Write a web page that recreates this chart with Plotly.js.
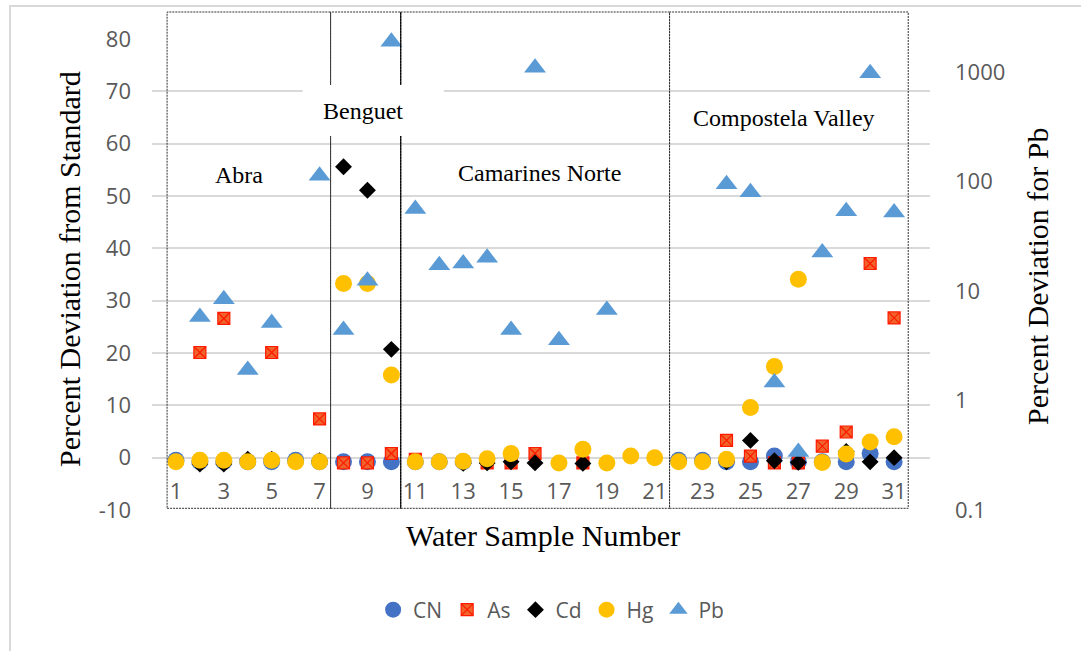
<!DOCTYPE html>
<html>
<head>
<meta charset="utf-8">
<script src="https://cdn.plot.ly/plotly-3.0.1.min.js"></script>
<style>
  html, body { margin: 0; padding: 0; background: #fff; }
  #chart { width: 1081px; height: 651px; }
</style>
</head>
<body>
<div id="chart"></div>
<script>
// ---- data ----
const samples = [1,2,3,4,5,6,7,8,9,10,11,12,13,14,15,16,17,18,19,20,21,22,23,24,25,26,27,28,29,30,31];
const xTickVals = [1,3,5,7,9,11,13,15,17,19,21,23,25,27,29,31];
const cnVals = [-0.5,-0.8,-0.8,-0.8,-0.8,-0.5,-0.8,-0.8,-0.8,-0.8,-0.8,-0.8,-0.8,null,null,null,null,null,null,null,null,-0.5,-0.5,-0.8,-0.8,0.3,-0.8,-0.8,-0.8,0.8,-0.8];
const asVals = [null,20.1,26.6,null,20.1,null,7.4,-1.0,-1.0,0.8,-0.3,null,null,-1.0,-1.0,0.8,null,-1.0,null,null,null,null,null,3.3,0.3,-1.0,-1.0,2.2,4.9,37.1,26.7];
const cdVals = [null,-1.2,-1.2,-0.3,-0.3,null,-0.6,55.6,51.1,20.7,null,null,-1.1,-1.0,-0.8,-1.0,null,-1.1,null,null,null,null,null,-0.8,3.3,-0.6,-0.9,null,1.2,-0.8,0.0];
const hgVals = [-0.8,-0.5,-0.5,-0.8,-0.5,-0.8,-0.8,33.3,33.3,15.8,-0.8,-0.8,-0.7,-0.2,0.8,null,-1.0,1.6,-1.0,0.3,0.0,-0.8,-0.8,-0.3,9.6,17.4,34.1,-0.9,0.7,3.0,4.0];
const pbVals = [null,5.8,8.4,1.9,5.1,null,113,4.4,12.4,1890,56,17.2,17.8,20.1,4.4,1094,3.55,null,6.7,null,null,null,null,94.6,80,1.46,0.338,22.5,53.6,973,52.1];
const leftTicks = [-10,0,10,20,30,40,50,60,70,80];
const leftTickText = ['-10','0','10','20','30','40','50','60','70','80'];
const rightTicks = [0.1,1,10,100,1000];
const rightTickText = ['0.1','1','10','100','1000'];
const regions = [
  {name: 'Abra', start: 0.63, end: 7.46},
  {name: 'Benguet', start: 7.46, end: 10.39},
  {name: 'Camarines Norte', start: 10.39, end: 21.62},
  {name: 'Compostela Valley', start: 21.62, end: 31.59}
];
const regionLabelPos = [
  {x: 3.62, y: 0.7113},
  {x: 8.81, y: 0.8478},
  {x: 16.19, y: 0.7149},
  {x: 26.38, y: 0.8316}
];

const sansFont = 'Open Sans, Liberation Sans, sans-serif';
const serifFont = 'Liberation Serif, Times New Roman, serif';
const grayText = '#595959';

const traces = [
  {name: 'CN', x: samples, y: cnVals, type: 'scatter', mode: 'markers', cliponaxis: false,
   marker: {symbol: 'circle', size: 17, color: '#4472C4'}},
  {name: 'As', x: samples, y: asVals, type: 'scatter', mode: 'markers', cliponaxis: false,
   marker: {symbol: 'square-x', size: 12, color: '#F0642C', line: {color: '#FF1A00', width: 1.2}}},
  {name: 'Cd', x: samples, y: cdVals, type: 'scatter', mode: 'markers', cliponaxis: false,
   marker: {symbol: 'diamond', size: 13, color: '#000000'}},
  {name: 'Hg', x: samples, y: hgVals, type: 'scatter', mode: 'markers', cliponaxis: false,
   marker: {symbol: 'circle', size: 17, color: '#FFC000'}},
  {name: 'Pb', x: samples, y: pbVals, type: 'scatter', mode: 'markers', yaxis: 'y2', cliponaxis: false,
   marker: {symbol: 'triangle-up', size: 19, color: '#5B9BD5'}}
];

const shapes = [];
// outer chart frame
shapes.push({type: 'rect', xref: 'paper', yref: 'paper', x0: -0.1825, x1: 1.35, y0: -0.35, y1: 1.0701,
  line: {color: '#D9D9D9', width: 2}, fillcolor: 'rgba(0,0,0,0)', layer: 'below'});
// region boxes
regions.forEach(r => {
  shapes.push({type: 'rect', xref: 'x', yref: 'paper', x0: r.start, x1: r.end, y0: 0.0036, y1: 1.0573,
    line: {color: '#303030', width: 1, dash: '2px,1px'}, fillcolor: 'rgba(0,0,0,0)', layer: 'above'});
});
// solid divider between Benguet and Camarines Norte
shapes.push({type: 'line', xref: 'x', yref: 'paper', x0: regions[2].start, x1: regions[2].start, y0: 0.0036, y1: 1.0573,
  line: {color: '#000000', width: 1}, layer: 'above'});
// white label box behind "Benguet"
shapes.push({type: 'rect', xref: 'x', yref: 'paper', x0: 6.29, x1: 12.19, y0: 0.7941, y1: 0.9023,
  line: {width: 0}, fillcolor: '#FFFFFF', layer: 'above'});

const annotations = regions.map((r, i) => ({
  text: r.name, x: regionLabelPos[i].x, y: regionLabelPos[i].y, xref: 'x', yref: 'paper',
  xanchor: 'center', yanchor: 'middle',
  showarrow: false, font: {family: serifFont, size: 24, color: '#000000'}
}));
annotations.push({text: 'Percent Deviation from Standard', xref: 'paper', yref: 'paper', x: -0.1054, y: 0.5117,
  xanchor: 'center', yanchor: 'middle',
  textangle: -90, showarrow: false, font: {family: serifFont, size: 30, color: '#000000'}});
annotations.push({text: 'Percent Deviation for Pb', xref: 'paper', yref: 'paper', x: 1.1375, y: 0.4968,
  xanchor: 'center', yanchor: 'middle',
  textangle: -90, showarrow: false, font: {family: serifFont, size: 30, color: '#000000'}});
annotations.push({text: 'Water Sample Number', xref: 'paper', yref: 'paper', x: 0.5026, y: -0.0531,
  xanchor: 'center', yanchor: 'middle',
  showarrow: false, font: {family: serifFont, size: 30, color: '#000000'}});

const layout = {
  width: 1081, height: 651,
  margin: {l: 152, r: 151, t: 39, b: 141},
  paper_bgcolor: '#FFFFFF', plot_bgcolor: '#FFFFFF',
  showlegend: true,
  legend: {orientation: 'h', x: 0.513, xanchor: 'center', y: -0.2123, yanchor: 'middle',
    font: {family: sansFont, size: 21, color: grayText}, bgcolor: 'rgba(0,0,0,0)', traceorder: 'normal'},
  xaxis: {
    range: [0, 32.5], anchor: 'free', position: 0.1111,
    tickmode: 'array', tickvals: xTickVals, ticktext: xTickVals.map(String),
    ticks: '', showgrid: false, zeroline: false, showline: false,
    ticklabelstandoff: 18,
    tickfont: {family: sansFont, size: 22, color: grayText}
  },
  yaxis: {
    range: [-10, 80], tickmode: 'array', tickvals: leftTicks, ticktext: leftTickText,
    ticks: '', showgrid: true, gridcolor: '#D9D9D9', gridwidth: 2,
    zeroline: false, showline: false, ticklabelstandoff: 20,
    tickfont: {family: sansFont, size: 22, color: grayText}
  },
  yaxis2: {
    type: 'log', range: [-1, 3.302], overlaying: 'y', side: 'right',
    tickmode: 'array', tickvals: rightTicks, ticktext: rightTickText,
    ticks: '', showgrid: false, zeroline: false, showline: false, ticklabelstandoff: 24,
    tickfont: {family: sansFont, size: 22, color: grayText}
  },
  shapes: shapes,
  annotations: annotations
};

Plotly.newPlot('chart', traces, layout, {displayModeBar: false, staticPlot: true});
</script>
</body>
</html>
